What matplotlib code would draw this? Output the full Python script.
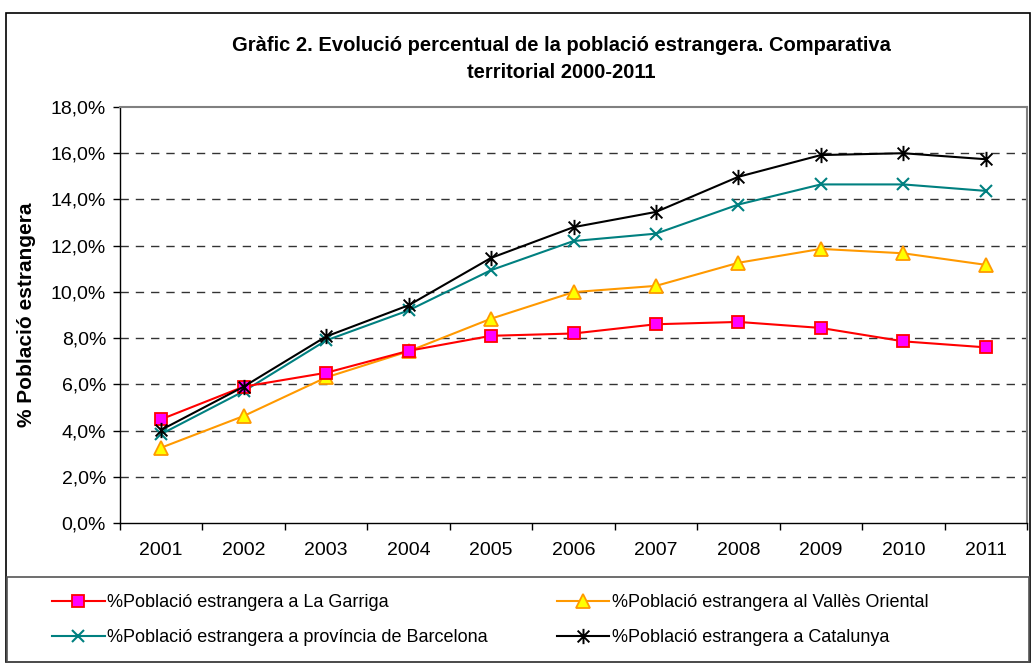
import matplotlib
matplotlib.use("Agg")
import matplotlib.pyplot as plt
from matplotlib.path import Path
from matplotlib.patches import Rectangle
from matplotlib.ticker import FixedLocator, FuncFormatter

plt.rcParams['font.family'] = ['Liberation Sans', 'DejaVu Sans']

years = ['2001', '2002', '2003', '2004', '2005', '2006', '2007', '2008', '2009', '2010', '2011']
garriga = [4.49, 5.90, 6.50, 7.45, 8.10, 8.20, 8.60, 8.70, 8.44, 7.86, 7.60]
valles = [3.26, 4.63, 6.30, 7.43, 8.84, 9.99, 10.26, 11.26, 11.86, 11.67, 11.17]
barcelona = [3.85, 5.70, 7.90, 9.20, 10.94, 12.20, 12.52, 13.78, 14.65, 14.65, 14.37]
catalunya = [4.03, 5.90, 8.07, 9.42, 11.47, 12.80, 13.46, 14.98, 15.92, 16.00, 15.74]

labels = ['%Població estrangera a La Garriga',
          '%Població estrangera al Vallès Oriental',
          '%Població estrangera a província de Barcelona',
          '%Població estrangera a Catalunya']
title = 'Gràfic 2. Evolució percentual de la població estrangera. Comparativa\nterritorial 2000-2011'
ylabel = '% Població estrangera'
yticks = [0, 2, 4, 6, 8, 10, 12, 14, 16, 18]

W, H = 1033, 664
fig = plt.figure(figsize=(W / 100, H / 100), dpi=100)

def fx(px):
    return px / W

def fy(py):
    return 1 - py / H

ax = fig.add_axes([fx(120), fy(523), fx(1027) - fx(120), fy(107) - fy(523)])

# Asterisk marker: x plus vertical stroke
ast = Path([(-1, -1), (1, 1), (-1, 1), (1, -1), (0, -1.3), (0, 1.3)],
           [Path.MOVETO, Path.LINETO, Path.MOVETO, Path.LINETO, Path.MOVETO, Path.LINETO])

x = list(range(len(years)))
h1, = ax.plot(x, garriga, color='#FF0000', lw=1.5, marker='s', ms=8,
              mfc='#FF00FF', mec='#FF0000', mew=1.3, zorder=5)
h2, = ax.plot(x, valles, color='#FF9900', lw=1.5, marker='^', ms=10,
              mfc='#FFFF00', mec='#FF9900', mew=1.3, zorder=4)
h3, = ax.plot(x, barcelona, color='#008080', lw=1.5, marker='x', ms=9,
              mec='#008080', mew=1.5, zorder=3)
h4, = ax.plot(x, catalunya, color='#000000', lw=1.5, marker=ast, ms=11,
              mec='#000000', mew=1.4, zorder=6)

ax.set_xlim(-0.5, len(years) - 0.5)
ax.set_ylim(0, 18)
ax.set_xticks(x)
ax.set_xticklabels(years, fontsize=14)
ax.xaxis.set_major_locator(FixedLocator(x))
ax.tick_params(axis='x', which='major', length=0, pad=14)
ax.set_xticks([i - 0.5 for i in range(len(years) + 1)], minor=True)
ax.tick_params(axis='x', which='minor', length=5, width=1, color='#000000', direction='out')

ax.set_yticks(yticks)
ax.yaxis.set_major_formatter(FuncFormatter(lambda v, p: ('%.1f%%' % v).replace('.', ',')))
ax.tick_params(axis='y', length=5, width=1, direction='out', labelsize=14, pad=5)

for v in yticks[1:-1]:
    ax.axhline(v, color='#333333', lw=1, ls=(0, (6, 5)), zorder=1)

for s in ['top', 'right']:
    ax.spines[s].set_color('#808080')
    ax.spines[s].set_linewidth(1.5)
for s in ['left', 'bottom']:
    ax.spines[s].set_color('#000000')
    ax.spines[s].set_linewidth(1)

fig.text(fx(27), fy(315), ylabel, rotation=90, ha='center', va='center',
         fontsize=15, fontweight='bold')
fig.text(fx(561), fy(59), title, ha='center', va='center', fontsize=14.5,
         fontweight='bold', linespacing=1.55)

# outer frame and legend box
fig.patches.append(Rectangle((fx(6), fy(662)), fx(1030) - fx(6), fy(13) - fy(662),
                             transform=fig.transFigure, fill=False, ec='#000000', lw=1.2))
fig.patches.append(Rectangle((fx(7), fy(662)), fx(1029) - fx(7), fy(577) - fy(662),
                             transform=fig.transFigure, fill=False, ec='#555555', lw=1.2))

fig.legend([h1, h3, h2, h4], [labels[0], labels[2], labels[1], labels[3]],
           ncol=2, loc='upper left', bbox_to_anchor=(fx(45), fy(587)),
           frameon=False, fontsize=13, handlelength=2.9, handletextpad=0.15,
           columnspacing=3.8, labelspacing=1.0, borderaxespad=0)

fig.savefig('out.png', dpi=100)
